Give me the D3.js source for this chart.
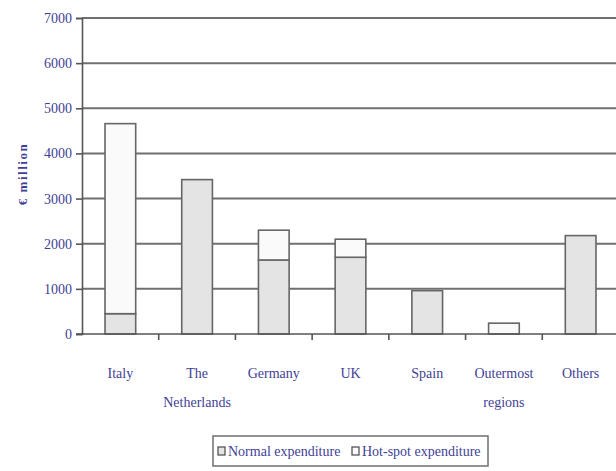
<!DOCTYPE html>
<html>
<head>
<meta charset="utf-8">
<script src="https://cdn.jsdelivr.net/npm/d3@7"></script>
<style>
  html, body { margin: 0; padding: 0; background: #fff; }
  svg { display: block; }
</style>
</head>
<body>
<div id="chart"></div>
<script>
// Expenditure by member state (€ million), stacked: normal + hot-spot
const categories = [["Italy"], ["The", "Netherlands"], ["Germany"], ["UK"], ["Spain"], ["Outermost", "regions"], ["Others"]];
const normalValues = [450, 3420, 1640, 1700, 960, 0, 2180];
const hotspotValues = [4210, 0, 660, 400, 0, 240, 0];
const yTicks = [0, 1000, 2000, 3000, 4000, 5000, 6000, 7000];
const seriesNames = ["Normal expenditure", "Hot-spot expenditure"];

const width = 616, height = 471;
const margin = { left: 82, top: 18, bottom: 334, right: 619 };
const serif = "Liberation Serif";
const ink = "#3f3f96";

const svg = d3.select("#chart").append("svg")
  .attr("width", width).attr("height", height);

const keys = categories.map((c, i) => i);
const x = d3.scaleBand().domain(keys).range([margin.left, margin.right]).padding(0);
const y = d3.scaleLinear().domain([0, 7000]).range([margin.bottom, margin.top]);
const barW = x.bandwidth() * 0.4;

// Horizontal gridlines
svg.append("g").selectAll("line").data(yTicks.filter(d => d > 0)).join("line")
  .attr("x1", margin.left).attr("x2", width)
  .attr("y1", d => y(d)).attr("y2", d => y(d))
  .attr("stroke", "#707070").attr("stroke-width", 2);

// Stacked bars
const rows = keys.map(i => ({ i, normal: normalValues[i], hot: hotspotValues[i] }));
const stack = d3.stack().keys(["normal", "hot"])(rows);
const fills = { normal: "#e4e4e4", hot: "#fafafa" };
stack.forEach(layer => {
  svg.append("g").selectAll("rect").data(layer.filter(d => d[1] - d[0] > 0)).join("rect")
    .attr("x", d => x(d.data.i) + (x.bandwidth() - barW) / 2)
    .attr("width", barW)
    .attr("y", d => y(d[1]))
    .attr("height", d => y(d[0]) - y(d[1]))
    .attr("fill", fills[layer.key])
    .attr("stroke", "#666").attr("stroke-width", 1.6);
});

// Y axis
const yAxis = svg.append("g").attr("transform", `translate(${margin.left},0)`)
  .call(d3.axisLeft(y).tickValues(yTicks).tickSize(6).tickPadding(4).tickFormat(d3.format("d")));
yAxis.attr("font-family", serif).attr("font-size", 14);
yAxis.select(".domain").attr("stroke", "#555").attr("stroke-width", 1.6);
yAxis.selectAll(".tick line").attr("stroke", "#555").attr("stroke-width", 1.6);
yAxis.selectAll("text").attr("font-family", serif).attr("font-size", 14).attr("fill", ink);

// X axis with ticks on category boundaries
const xg = svg.append("g");
xg.append("line").attr("x1", margin.left - 6).attr("x2", width)
  .attr("y1", y(0)).attr("y2", y(0)).attr("stroke", "#555").attr("stroke-width", 1.6);
xg.selectAll("line.tk").data(keys.slice(1)).join("line").attr("class", "tk")
  .attr("x1", d => x(d)).attr("x2", d => x(d))
  .attr("y1", y(0)).attr("y2", y(0) + 6)
  .attr("stroke", "#555").attr("stroke-width", 1.6);

// Category labels
const lbl = svg.append("g").selectAll("text").data(keys).join("text")
  .attr("text-anchor", "middle").attr("font-family", serif).attr("font-size", 14).attr("fill", ink)
  .attr("transform", d => `translate(${x(d) + x.bandwidth() / 2},378)`);
lbl.selectAll("tspan").data(d => categories[d]).join("tspan")
  .attr("x", 0).attr("dy", (d, j) => j === 0 ? 0 : 29).text(d => d);

// Y axis title
svg.append("text").attr("transform", "translate(27,174) rotate(-90)")
  .attr("text-anchor", "middle").attr("font-family", serif).attr("font-size", 13)
  .attr("font-weight", "bold").attr("fill", ink)
  .attr("letter-spacing", 1.5).text("€ million");

// Legend
const lg = svg.append("g");
lg.append("rect").attr("x", 213).attr("y", 436).attr("width", 275).attr("height", 30)
  .attr("fill", "#fff").attr("stroke", "#777").attr("stroke-width", 1.6);
const legendItems = [
  { name: seriesNames[0], fill: fills.normal, x: 218 },
  { name: seriesNames[1], fill: fills.hot, x: 352 }
];
const li = lg.selectAll("g").data(legendItems).join("g")
  .attr("transform", d => `translate(${d.x},451)`);
li.append("rect").attr("x", 0).attr("y", -4).attr("width", 7).attr("height", 8)
  .attr("fill", d => d.fill).attr("stroke", "#555").attr("stroke-width", 1.3);
li.append("text").attr("x", 10).attr("y", 4.5).attr("font-family", serif).attr("font-size", 14)
  .attr("fill", ink).text(d => d.name);
</script>
</body>
</html>
